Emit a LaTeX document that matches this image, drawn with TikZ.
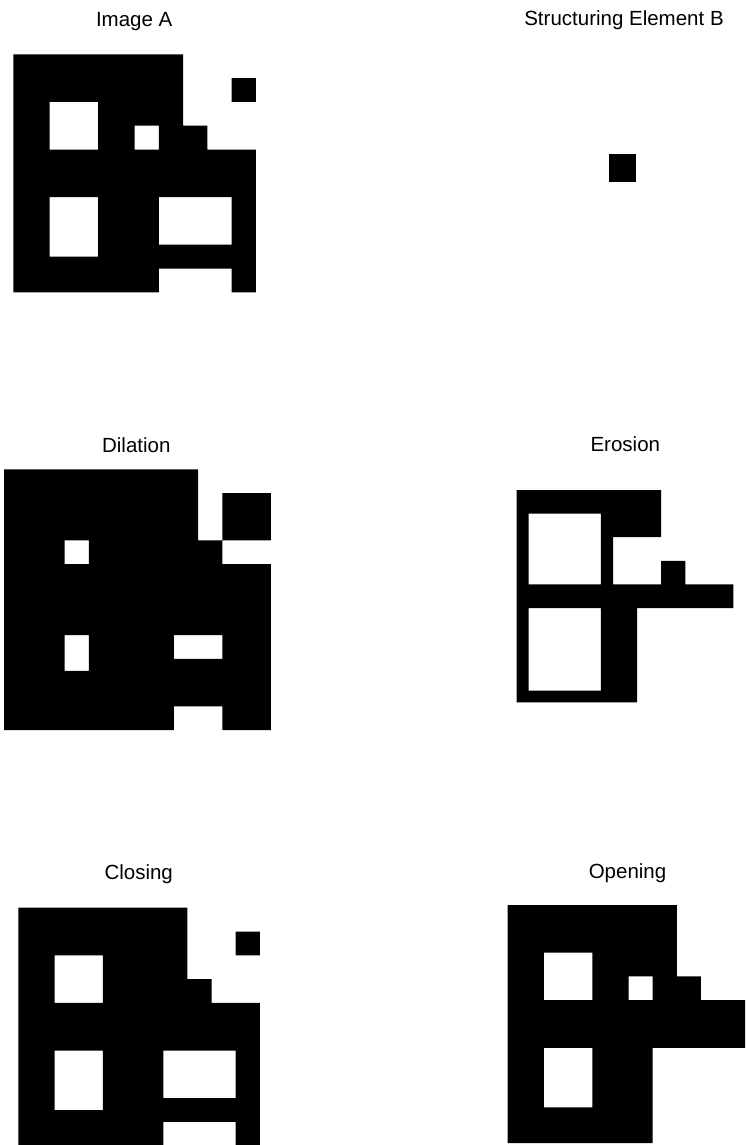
\documentclass[tikz,border=0pt]{standalone}
\usepackage{fontspec}
\setmainfont{Liberation Sans}
\newcommand\pixpanel[5]{% x0, y0, dx, dy, list of rowA/rowB/colA/colB
  \fill[black] foreach \ra/\rb/\ca/\cb in {#5} {
    ({#1+\ca*#3},{#2+\ra*#4}) rectangle ({#1+(\cb+1)*#3},{#2+(\rb+1)*#4})
  };
}
\tikzset{ttl/.style={anchor=base,inner sep=0pt,font=\fontsize{20.5}{24}\selectfont}}
\begin{document}
\begin{tikzpicture}[x=1pt,y=-1pt]
\fill[white] (0,0) rectangle (745,1145);
\useasboundingbox (0,0) rectangle (745,1145);
\clip (0,0) rectangle (745,1145);
% titles
\node[ttl] (tA) at (134.2,26.7) {Image A};
\node[ttl] (tB) at (624,26) {Structuring Element B};
\node[ttl] (tD) at (136.3,452.3) {Dilation};
\node[ttl] (tE) at (625.3,451) {Erosion};
\node[ttl] (tC) at (138.7,879.3) {Closing};
\node[ttl] (tO) at (627.5,878.7) {Opening};
% Image A (20x20)
\pixpanel{13.3}{54.3}{12.13}{11.9}{0/1/0/13, 2/3/0/13, 2/3/18/19, 4/5/0/2, 4/5/7/13,
  6/7/0/2, 6/7/7/9, 6/7/12/15, 8/11/0/19, 12/15/0/2, 12/15/7/11, 12/15/18/19,
  16/16/0/2, 16/16/7/19, 17/17/0/19, 18/19/0/11, 18/19/18/19}
% Structuring element B
\fill[black] (609,154.3) rectangle (635.7,181.7);
% Dilation (22x22)
\pixpanel{4}{469.3}{12.13}{11.85}{0/1/0/15, 2/5/0/15, 2/5/18/21, 6/7/0/4, 6/7/7/17,
  8/13/0/21, 14/15/0/4, 14/15/7/13, 14/15/18/21, 16/16/0/4, 16/16/7/21,
  17/19/0/21, 20/21/0/13, 20/21/18/21}
% Erosion (18x18)
\pixpanel{516.7}{490}{12.04}{11.8}{0/1/0/11, 2/3/0/0, 2/3/7/11, 4/5/0/0, 4/5/7/7,
  6/7/0/0, 6/7/7/7, 6/7/12/13, 8/9/0/17, 10/16/0/0, 10/16/7/9, 17/17/0/9}
% Closing (20x20)
\pixpanel{18.3}{907.7}{12.08}{11.9}{0/1/0/13, 2/3/0/13, 2/3/18/19, 4/5/0/2, 4/5/7/13,
  6/7/0/2, 6/7/7/15, 8/11/0/19, 12/15/0/2, 12/15/7/11, 12/15/18/19,
  16/16/0/2, 16/16/7/19, 17/17/0/19, 18/19/0/11, 18/19/18/19}
% Opening (20x20)
\pixpanel{507.7}{905}{12.08}{11.9}{0/3/0/13, 4/5/0/2, 4/5/7/13, 6/7/0/2, 6/7/7/9,
  6/7/12/15, 8/11/0/19, 12/16/0/2, 12/16/7/11, 17/19/0/11}
\end{tikzpicture}
\end{document}
